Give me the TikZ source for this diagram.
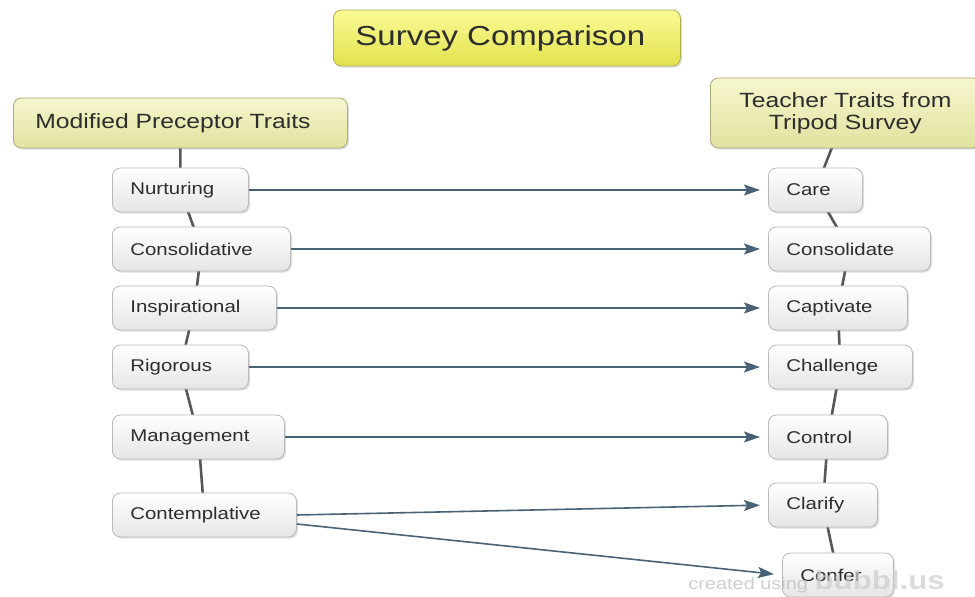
\documentclass[tikz,border=0pt]{standalone}
\usepackage{fontspec}
\setmainfont{Liberation Sans}[FakeStretch=1.2]
\usetikzlibrary{arrows.meta,shadows,backgrounds}

\definecolor{titletop}{RGB}{250,250,150}
\definecolor{titlebot}{RGB}{226,226,78}
\definecolor{titleedge}{RGB}{175,175,80}
\definecolor{headtop}{RGB}{246,246,206}
\definecolor{headbot}{RGB}{226,226,160}
\definecolor{headedge}{RGB}{170,170,120}
\definecolor{linkcol}{RGB}{74,98,118}
\definecolor{treecol}{RGB}{88,88,88}
\definecolor{labelcol}{RGB}{45,45,45}

\tikzset{
  bubble/.style={draw=gray!55, rounded corners=4pt, top color=white, bottom color=gray!20,
    drop shadow={shadow xshift=0.8pt, shadow yshift=-0.8pt, opacity=0.25},
    inner xsep=9pt, minimum height=22pt, align=left, anchor=west, text=labelcol,
    font=\fontsize{8.5}{10}\selectfont},
  headbubble/.style={bubble, draw=headedge, top color=headtop, bottom color=headbot,
    inner xsep=11pt, minimum height=25pt, font=\fontsize{10.3}{11}\selectfont},
  titlebubble/.style={headbubble, draw=titleedge, top color=titletop, bottom color=titlebot,
    minimum height=28pt, font=\fontsize{13.75}{16}\selectfont},
  treeline/.style={draw=treecol, line width=1.3pt},
  link/.style={draw=linkcol, line width=0.8pt, -{Stealth[length=8pt,width=5.5pt,inset=1.5pt]}, shorten >=4pt}
}

\begin{document}
\begin{tikzpicture}[x=0.5pt,y=-0.5pt]
\useasboundingbox (0,0) rectangle (975,597);

\node[titlebubble, text width=151.5pt] (title) at (333,38) {Survey Comparison};

\node[headbubble, text width=145pt] (modified) at (13,123) {Modified Preceptor Traits};
\node[headbubble, text width=113pt, align=center, minimum height=35pt] (tripod) at (710,113) {Teacher Traits from\\Tripod Survey};

\node[bubble, text width=50pt] (nurturing) at (112,190) {Nurturing};
\node[bubble, text width=71pt] (consolidative) at (112,249) {Consolidative};
\node[bubble, text width=64pt] (inspirational) at (112,308) {Inspirational};
\node[bubble, text width=50pt] (rigorous) at (112,367) {Rigorous};
\node[bubble, text width=68pt] (management) at (112,437) {Management};
\node[bubble, text width=74pt] (contemplative) at (112,515) {Contemplative};

\node[bubble, text width=29pt] (care) at (768,190) {Care};
\node[bubble, text width=63pt] (consolidate) at (768,249) {Consolidate};
\node[bubble, text width=51.5pt] (captivate) at (768,308) {Captivate};
\node[bubble, text width=54pt] (challenge) at (768,367) {Challenge};
\node[bubble, text width=41.5pt] (control) at (768,437) {Control};
\node[bubble, text width=36.5pt] (clarify) at (768,505) {Clarify};
\node[bubble, text width=37.5pt] (confer) at (782,575) {Confer};

\begin{scope}[on background layer]
\draw[treeline] (modified.center) -- (nurturing.center) -- (consolidative.center) -- (inspirational.center)
  -- (rigorous.center) -- (management.center) -- (contemplative.center);
\draw[treeline] (tripod.center) -- (care.center) -- (consolidate.center) -- (captivate.center)
  -- (challenge.center) -- (control.center) -- (clarify.center) -- (confer.center);
\end{scope}

\draw[link] (nurturing.east) -- (care.west);
\draw[link] (consolidative.east) -- (consolidate.west);
\draw[link] (inspirational.east) -- (captivate.west);
\draw[link] (rigorous.east) -- (challenge.west);
\draw[link] (management.east) -- (control.west);
\draw[link] (contemplative.east) -- (clarify.west);
\draw[link] ([yshift=-4.5pt]contemplative.east) -- (confer.west);

\node[anchor=base west, inner sep=0pt, opacity=0.7] (credit) at (688,590)
  {{\fontsize{8.3}{10}\selectfont\color{gray!55}created using} {\fontsize{13}{14}\selectfont\bfseries\color{gray!40}bubbl.us}};

\end{tikzpicture}
\end{document}
